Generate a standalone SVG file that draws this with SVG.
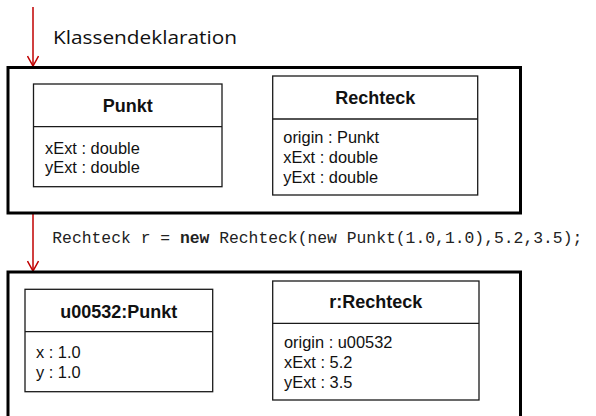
<svg xmlns="http://www.w3.org/2000/svg" width="596" height="416" viewBox="0 0 596 416">
<style>
.frame{fill:none;stroke:#000;stroke-width:3}
.box{fill:#fff;stroke:#1a1a1a;stroke-width:1.3}
.sep{stroke:#1a1a1a;stroke-width:1.3}
.title{font-family:"Liberation Sans",Arial,sans-serif;font-size:18px;font-weight:bold;text-anchor:middle;fill:#111}
.attr{font-family:"Liberation Sans",Arial,sans-serif;font-size:16.4px;fill:#111}
.code{font-family:"Liberation Mono","Courier New",monospace;font-size:16.3px;fill:#222}
.label{font-family:"Open Sans","Noto Sans",sans-serif;font-size:19px;fill:#111}
.conn{stroke:#c00000;stroke-width:1.5;fill:none}
</style>
<defs>
<marker id="arr" viewBox="0 0 12 12" refX="11" refY="6" markerWidth="12" markerHeight="12" markerUnits="userSpaceOnUse" orient="auto">
<path d="M1,0.5 L11,6 L1,11.5" fill="none" stroke="#c00000" stroke-width="1.5"/>
</marker>
</defs>
<rect width="596" height="416" fill="#fff"/>
<g id="connectors">
<line class="conn" x1="33" y1="7" x2="33" y2="66" marker-end="url(#arr)"/>
<line class="conn" x1="33" y1="214" x2="33" y2="271" marker-end="url(#arr)"/>
</g>
<text class="label" x="53" y="43.7" textLength="184" lengthAdjust="spacingAndGlyphs">Klassendeklaration</text>
<text class="code" x="52.3" y="243.3" textLength="530" lengthAdjust="spacingAndGlyphs">Rechteck r = <tspan font-weight="bold">new</tspan> Rechteck(new Punkt(1.0,1.0),5.2,3.5);</text>
<g id="klassendeklaration">
<rect class="frame" x="8" y="67.5" width="512.5" height="145.5"/>
</g>
<g id="punkt">
<rect class="box" x="33.5" y="84" width="188.5" height="102.7"/>
<line class="sep" x1="33.5" y1="126.7" x2="222" y2="126.7"/>
<text class="title" x="127.7" y="112">Punkt</text>
<text class="attr" x="45" y="153.5">xExt : double</text>
<text class="attr" x="45" y="173">yExt : double</text>
</g>
<g id="rechteck">
<rect class="box" x="272.7" y="76" width="205" height="119"/>
<line class="sep" x1="272.7" y1="119" x2="477.7" y2="119"/>
<text class="title" x="375.2" y="104">Rechteck</text>
<text class="attr" x="283.3" y="142.7">origin : Punkt</text>
<text class="attr" x="283.3" y="162.7">xExt : double</text>
<text class="attr" x="283.3" y="182.7">yExt : double</text>
</g>
<g id="objekte">
<rect class="frame" x="8" y="272" width="512.5" height="160"/>
</g>
<g id="u00532">
<rect class="box" x="25" y="289.3" width="187.7" height="102.4"/>
<line class="sep" x1="25" y1="331.7" x2="212.7" y2="331.7"/>
<text class="title" x="118.8" y="317.7">u00532:Punkt</text>
<text class="attr" x="36" y="358.3">x : 1.0</text>
<text class="attr" x="36" y="378.3">y : 1.0</text>
</g>
<g id="r">
<rect class="box" x="272.7" y="281" width="206.3" height="119"/>
<line class="sep" x1="272.7" y1="323.3" x2="479" y2="323.3"/>
<text class="title" x="375.8" y="308.3">r:Rechteck</text>
<text class="attr" x="284" y="348.3">origin : u00532</text>
<text class="attr" x="284" y="368.3">xExt : 5.2</text>
<text class="attr" x="284" y="388.3">yExt : 3.5</text>
</g>
</svg>
